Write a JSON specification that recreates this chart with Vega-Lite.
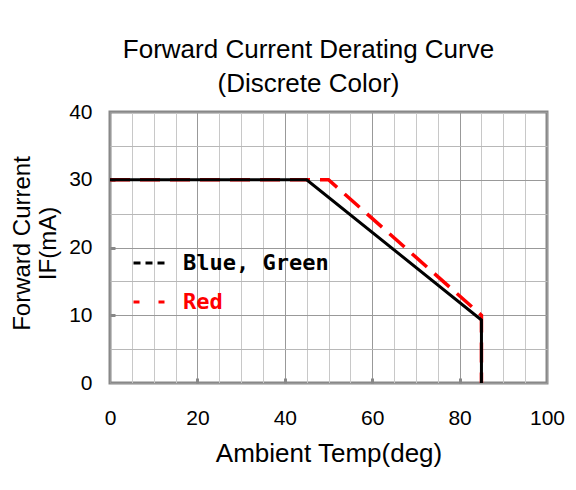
{
  "$schema": "https://vega.github.io/schema/vega-lite/v6.json",
  "width": 437,
  "height": 271,
  "autosize": {"type": "none"},
  "padding": {"left": 110, "top": 112, "right": 29, "bottom": 107},
  "background": "white",
  "title": {
    "text": ["Forward Current Derating Curve", "(Discrete Color)"],
    "font": "Liberation Sans",
    "fontSize": 26,
    "fontWeight": "normal",
    "color": "black",
    "anchor": "middle",
    "baseline": "bottom",
    "dx": -20,
    "dy": 36,
    "offset": 14,
    "lineHeight": 34
  },
  "data": {
    "values": [
      {"series": "Blue, Green", "idx": 0, "temp": 0, "current": 30},
      {"series": "Blue, Green", "idx": 1, "temp": 45, "current": 30},
      {"series": "Blue, Green", "idx": 2, "temp": 85, "current": 9.3},
      {"series": "Blue, Green", "idx": 3, "temp": 85, "current": 0},
      {"series": "Red", "idx": 0, "temp": 0, "current": 30},
      {"series": "Red", "idx": 1, "temp": 50, "current": 30},
      {"series": "Red", "idx": 2, "temp": 85, "current": 10},
      {"series": "Red", "idx": 3, "temp": 85, "current": 0}
    ]
  },
  "encoding": {
    "x": {
      "field": "temp",
      "type": "quantitative",
      "scale": {"domain": [0, 100], "nice": false, "zero": false},
      "axis": {
        "title": "Ambient Temp(deg)",
        "values": [0,5,10,15,20,25,30,35,40,45,50,55,60,65,70,75,80,85,90,95,100],
        "labelExpr": "datum.value % 20 === 0 ? datum.label : ''",
        "labelFont": "Liberation Sans",
        "labelFontSize": 21,
        "labelColor": "black",
        "labelPadding": 29,
        "labelFlush": false,
        "labelOverlap": false,
        "domain": false,
        "ticks": true,
        "tickSize": -5,
        "tickWidth": 3,
        "tickColor": {"condition": {"test": "datum.value % 20 === 0 && datum.value > 0 && datum.value < 100", "value": "#888888"}, "value": "transparent"},
        "grid": true,
        "gridColor": {"condition": {"test": "datum.value % 20 === 0", "value": "#999999"}, "value": "#c8c8c8"},
        "gridWidth": 1,
        "titleFont": "Liberation Sans",
        "titleFontSize": 26,
        "titleFontWeight": "normal",
        "titleColor": "black",
        "titleBaseline": "alphabetic",
        "titleY": 78
      }
    },
    "y": {
      "field": "current",
      "type": "quantitative",
      "scale": {"domain": [0, 40], "nice": false, "zero": false},
      "axis": {
        "title": ["Forward Current", "IF(mA)"],
        "values": [0,5,10,15,20,25,30,35,40],
        "labelExpr": "datum.value % 10 === 0 ? datum.label : ''",
        "labelFont": "Liberation Sans",
        "labelFontSize": 21,
        "labelColor": "black",
        "labelPadding": 23,
        "labelFlush": false,
        "labelOverlap": false,
        "domain": false,
        "ticks": true,
        "tickSize": -5,
        "tickWidth": 3,
        "tickColor": {"condition": {"test": "datum.value % 10 === 0 && datum.value > 0 && datum.value < 40", "value": "#888888"}, "value": "transparent"},
        "grid": true,
        "gridColor": {"condition": {"test": "datum.value % 10 === 0", "value": "#999999"}, "value": "#b8b8b8"},
        "gridWidth": 1,
        "titleFont": "Liberation Sans",
        "titleFontSize": 24,
        "titleFontWeight": "normal",
        "titleColor": "black",
        "titleAngle": -90,
        "titleBaseline": "alphabetic",
        "titleAlign": "center",
        "titleLineHeight": 26,
        "titleX": -81,
        "titleY": 131
      }
    },
    "color": {
      "field": "series",
      "type": "nominal",
      "scale": {"domain": ["Blue, Green", "Red"], "range": ["#000000", "#ff0000"]},
      "legend": {
        "title": null,
        "orient": "none",
        "legendX": 22,
        "legendY": 133,
        "padding": 0,
        "symbolType": "stroke",
        "symbolSize": 1089,
        "symbolStrokeWidth": 3,
        "labelFont": "DejaVu Sans Mono",
        "labelFontWeight": "bold",
        "labelFontSize": 22,
        "labelOffset": 15,
        "rowPadding": 10,
        "encode": {
          "labels": {"update": {"fill": {"signal": "datum.value === 'Red' ? '#ff0000' : '#000000'"}}},
          "symbols": {"update": {"strokeDash": {"signal": "datum.value === 'Red' ? [6,19] : [7,5]"}}}
        }
      }
    },
    "order": {"field": "idx", "type": "quantitative"}
  },
  "layer": [
    {"transform": [{"filter": "datum.series === 'Red'"}], "mark": {"type": "line", "strokeWidth": 3.5, "strokeDash": [20, 10]}},
    {"transform": [{"filter": "datum.series !== 'Red'"}], "mark": {"type": "line", "strokeWidth": 3}}
  ],
  "config": {"view": {"stroke": "#888888", "strokeWidth": 3}}
}
